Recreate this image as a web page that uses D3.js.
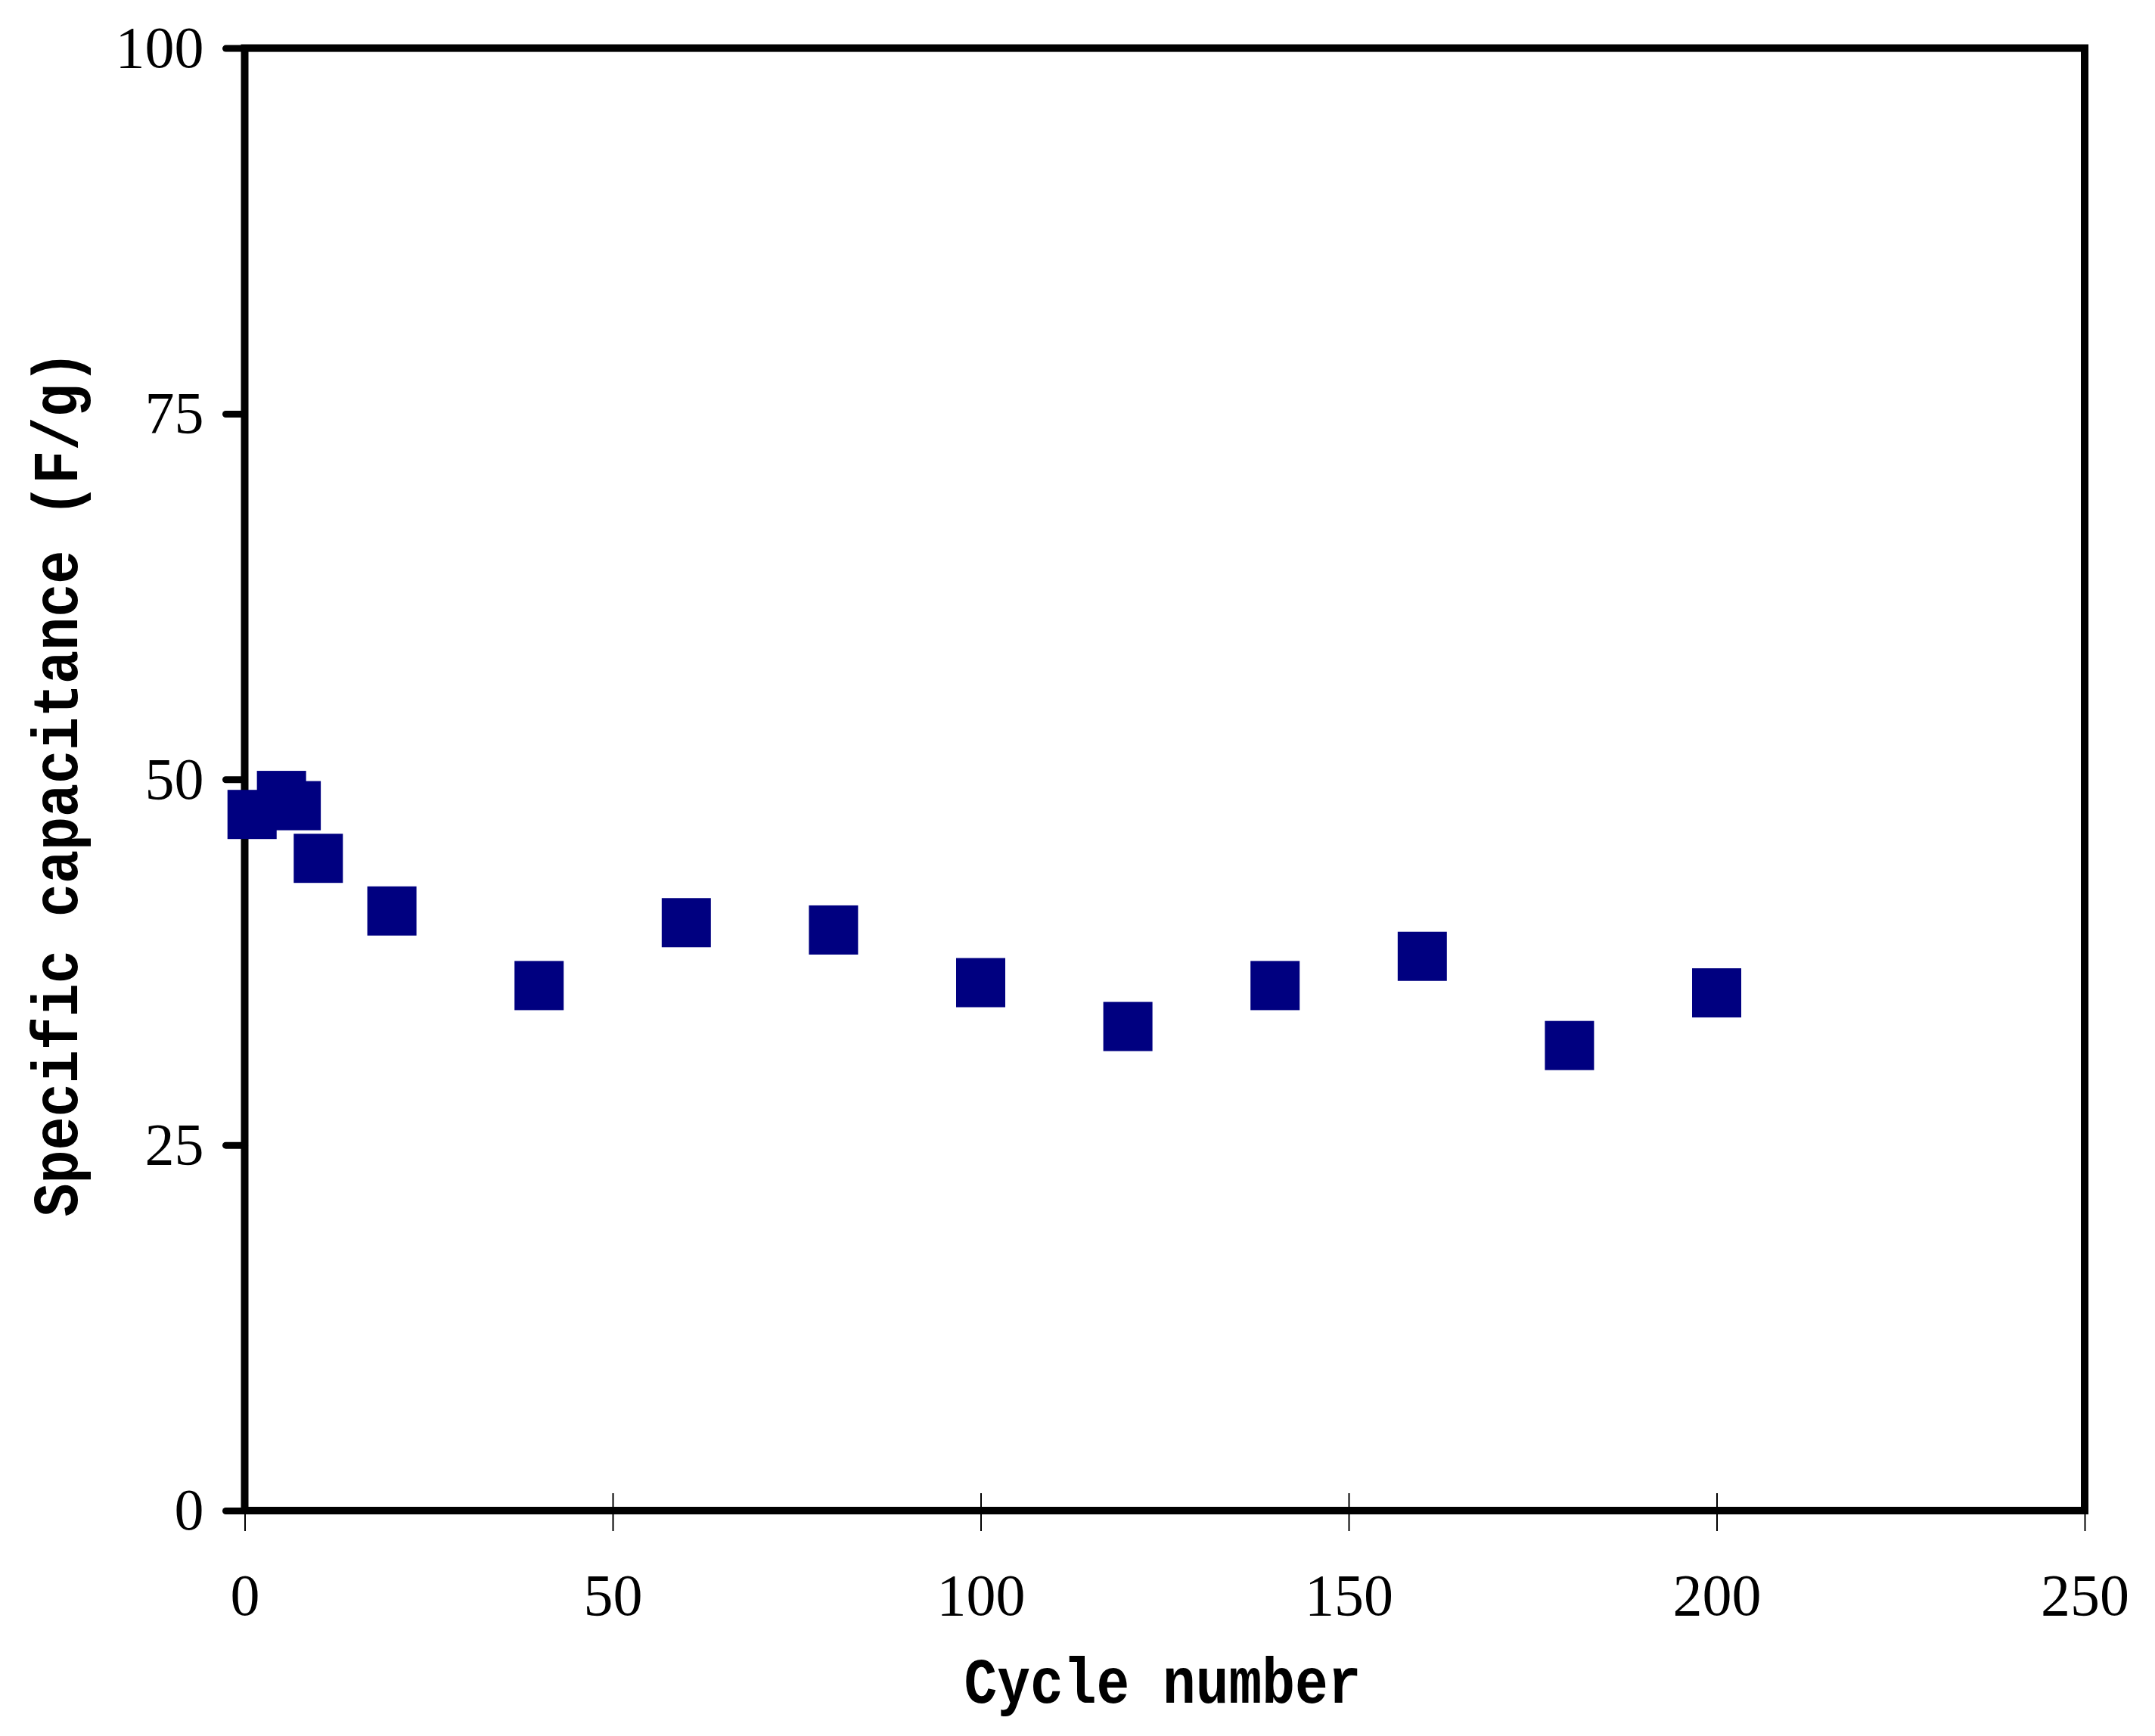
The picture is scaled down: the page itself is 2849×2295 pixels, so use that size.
<!DOCTYPE html>
<html>
<head>
<meta charset="utf-8">
<script src="https://cdn.jsdelivr.net/npm/d3@7"></script>
<style>
  body { margin: 0; background: #fff; }
</style>
</head>
<body>
<svg id="chart"></svg>
<script>
// data
var cycles = [1, 5, 7, 10, 20, 40, 60, 80, 100, 120, 140, 160, 180, 200];
var capacitance = [47.6, 48.9, 48.2, 44.6, 41.0, 35.9, 40.2, 39.7, 36.1, 33.1, 35.9, 37.9, 31.8, 35.4];
var xTicks = [0, 50, 100, 150, 200, 250];
var yTicks = [0, 25, 50, 75, 100];

var width = 2849, height = 2295;
var plotLeft = 323.5, plotRight = 2756, plotTop = 63.6, plotBottom = 1997;

var svg = d3.select("#chart")
    .attr("width", width)
    .attr("height", height);

var x = d3.scaleLinear().domain([0, 250]).range([plotLeft, plotRight]);
var y = d3.scaleLinear().domain([0, 100]).range([plotBottom, plotTop]);

// x axis, thin ticks crossing the line
var xAxis = svg.append("g")
    .attr("transform", "translate(0," + plotBottom + ")")
    .call(d3.axisBottom(x).tickValues(xTicks).tickSize(27).tickSizeOuter(0));
xAxis.select(".domain").remove();
xAxis.selectAll(".tick line")
    .attr("y1", -23)
    .attr("stroke", "#000")
    .attr("stroke-width", 2);
xAxis.selectAll(".tick text")
    .attr("y", 138)
    .attr("dy", null)
    .style("font-family", "'Liberation Serif', 'DejaVu Serif', serif")
    .style("font-size", "78px")
    .attr("fill", "#000");

// y axis, thick ticks outside
var yAxis = svg.append("g")
    .attr("transform", "translate(" + plotLeft + ",0)")
    .call(d3.axisLeft(y).tickValues(yTicks).tickSize(25).tickPadding(29).tickSizeOuter(0));
yAxis.select(".domain").remove();
yAxis.selectAll(".tick line")
    .attr("stroke", "#000")
    .attr("stroke-width", 9)
    .attr("stroke-linecap", "round");
yAxis.selectAll(".tick text")
    .style("font-family", "'Liberation Serif', 'DejaVu Serif', serif")
    .style("font-size", "78px")
    .attr("fill", "#000");

// frame
svg.append("rect")
    .attr("x", plotLeft)
    .attr("y", plotTop)
    .attr("width", plotRight - plotLeft)
    .attr("height", plotBottom - plotTop)
    .attr("fill", "none")
    .attr("stroke", "#000")
    .attr("stroke-width", 10);

// axis titles
svg.append("text")
    .attr("x", 1537)
    .attr("y", 2251)
    .attr("text-anchor", "middle")
    .attr("textLength", 525)
    .attr("lengthAdjust", "spacingAndGlyphs")
    .style("font-family", "'Liberation Mono', 'DejaVu Sans Mono', monospace")
    .style("font-weight", "bold")
    .style("font-size", "86px")
    .text("Cycle number");

svg.append("text")
    .attr("transform", "translate(102,1036) rotate(-90)")
    .attr("text-anchor", "middle")
    .attr("textLength", 1145)
    .attr("lengthAdjust", "spacingAndGlyphs")
    .style("font-family", "'Liberation Mono', 'DejaVu Sans Mono', monospace")
    .style("font-weight", "bold")
    .style("font-size", "86px")
    .text("Specific capacitance (F/g)");

// square markers
var size = 65;
var points = cycles.map(function(c, i) { return {c: c, v: capacitance[i]}; });

svg.selectAll(".dot")
    .data(points)
    .enter().append("rect")
    .attr("class", "dot")
    .attr("x", function(d) { return x(d.c) - size / 2; })
    .attr("y", function(d) { return y(d.v) - size / 2; })
    .attr("width", size)
    .attr("height", size)
    .attr("fill", "#000080");
</script>
</body>
</html>
